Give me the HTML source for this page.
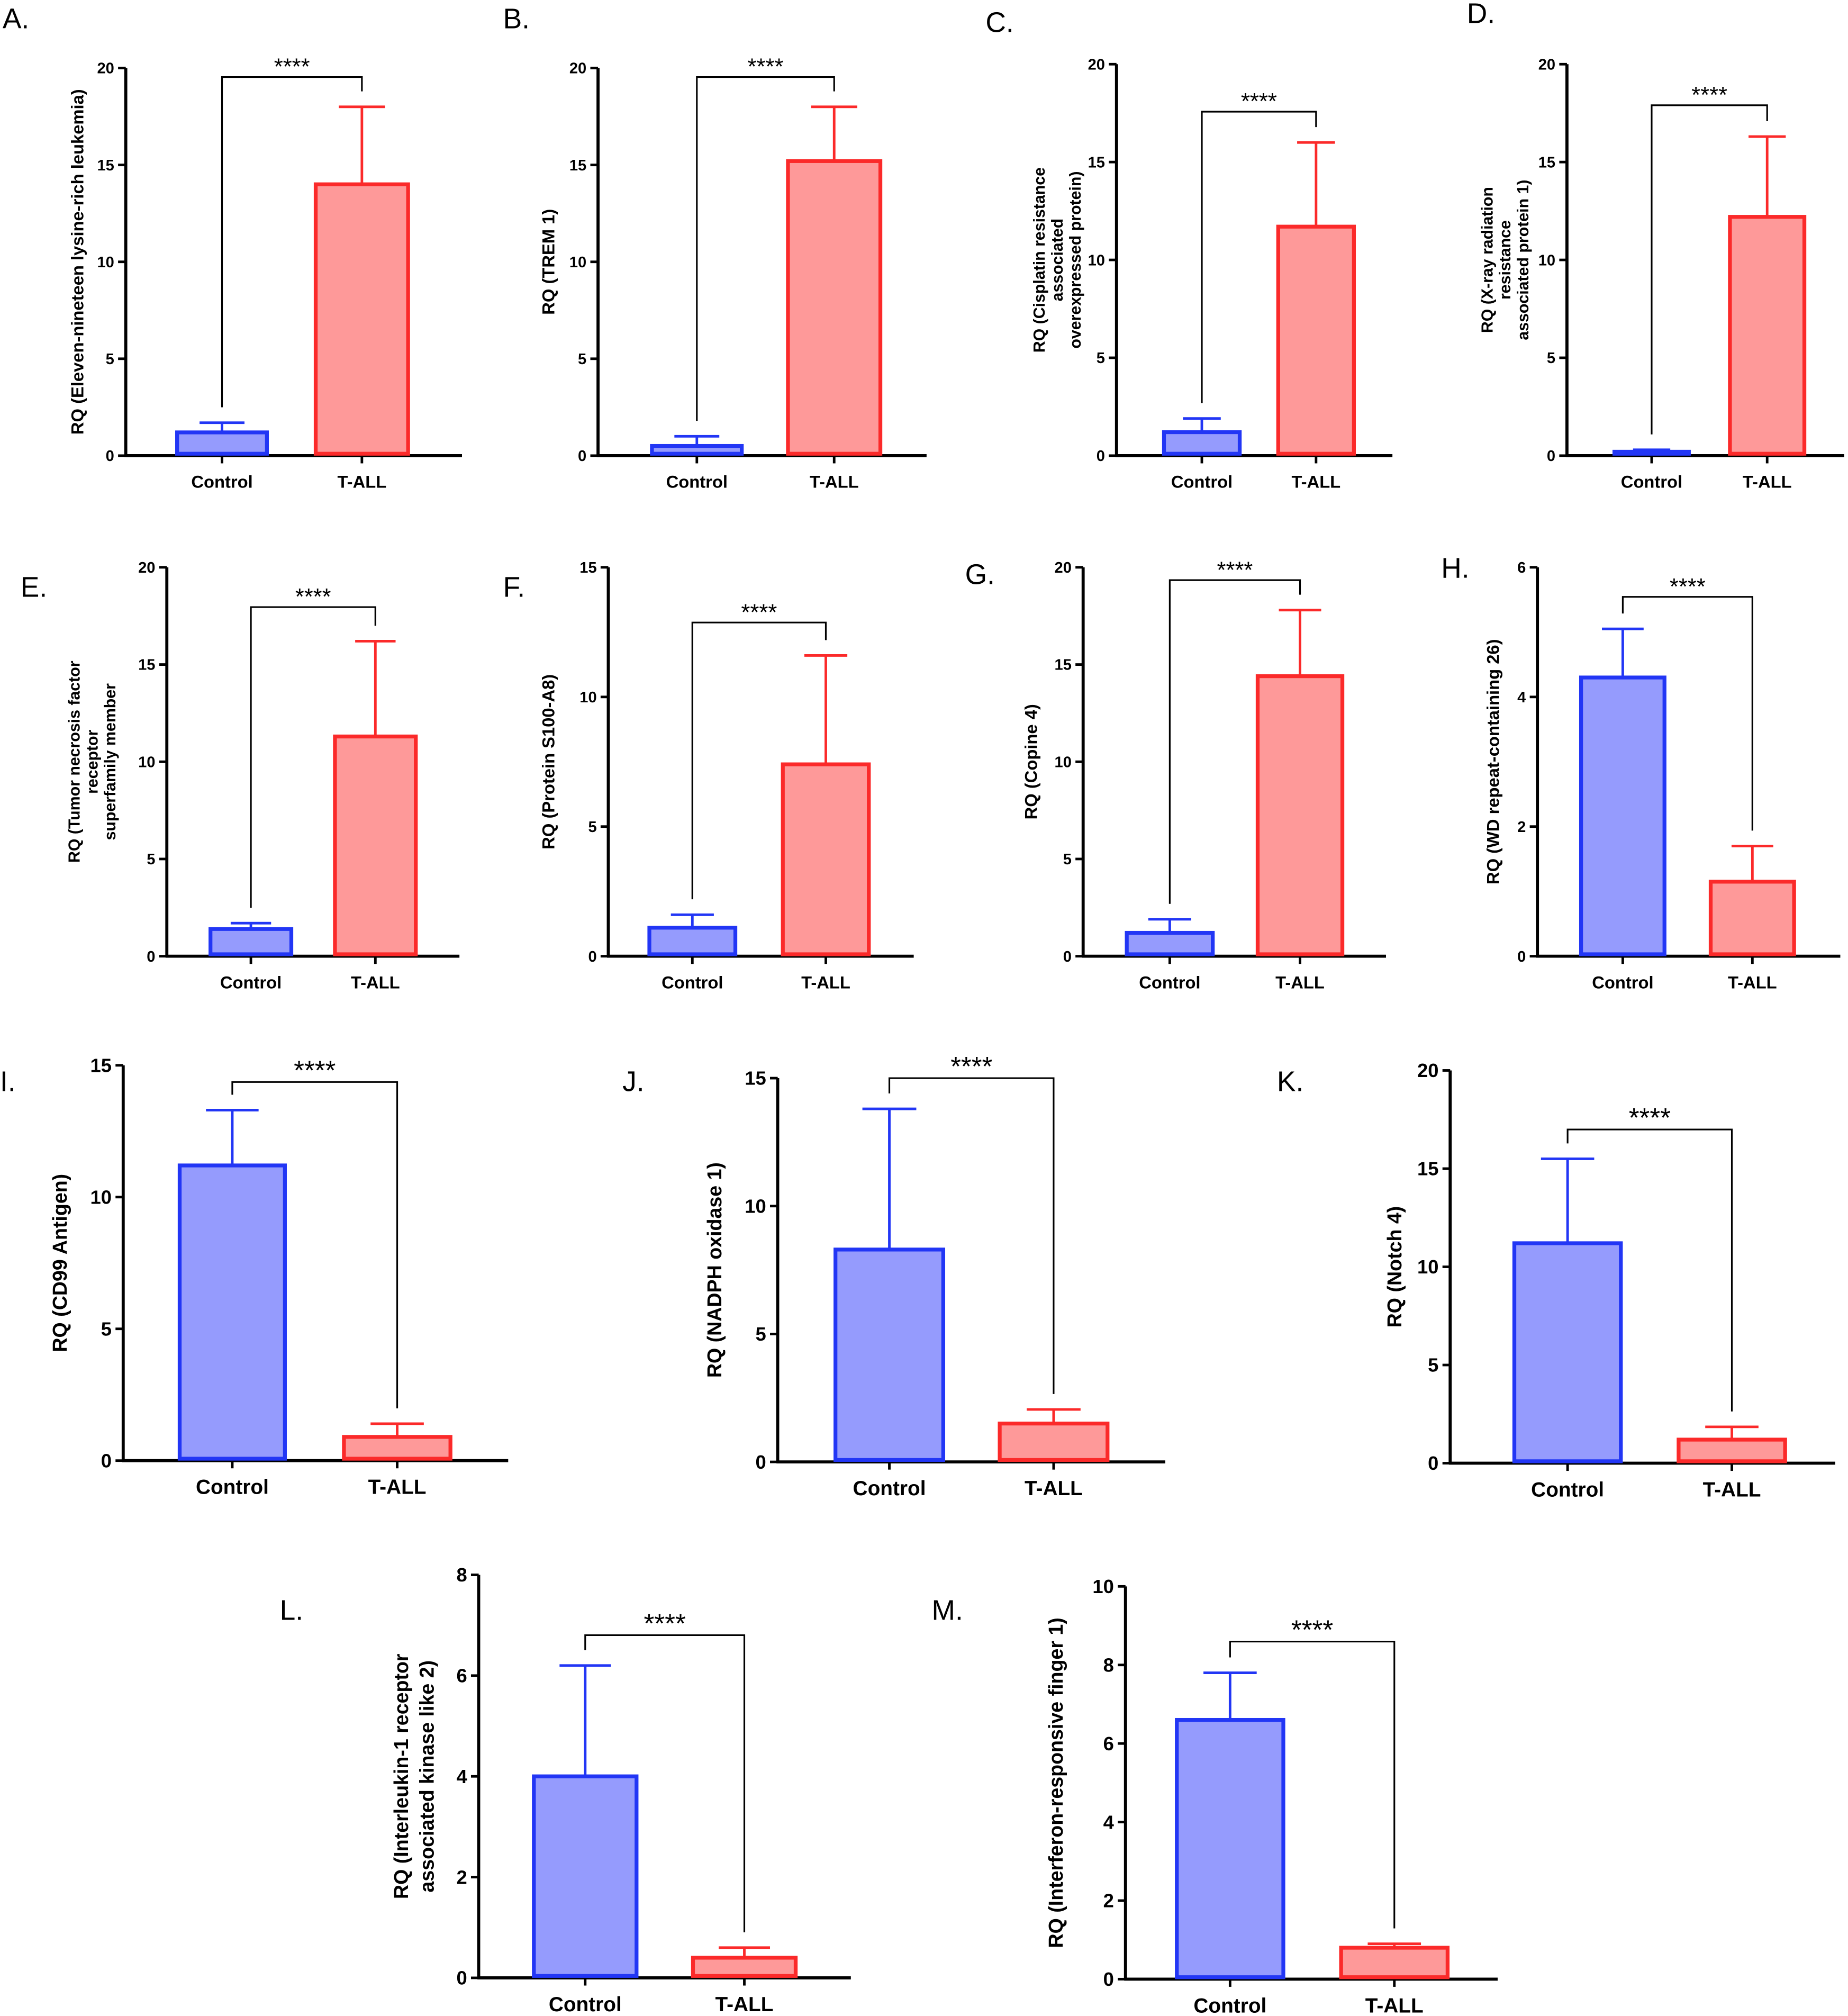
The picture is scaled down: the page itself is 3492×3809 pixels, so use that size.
<!DOCTYPE html>
<html><head><meta charset="utf-8"><style>
html,body{margin:0;padding:0;background:#fff}
svg{display:block}
text{font-family:"Liberation Sans",sans-serif}
</style></head><body>
<svg id="fig" width="3492" height="3809" viewBox="0 0 1440 1570.7" xmlns="http://www.w3.org/2000/svg"></svg>
<script>
const panelIds=["A","B","C","D","E","F","G","H","I","J","K","L","M"];
const categories=["Control","T-ALL"];
const controlVals=[1.2,0.5,1.2,0.2,1.4,1.1,1.2,4.3,11.2,8.3,11.2,4.0,6.6];
const controlErr=[1.7,1.0,1.9,0.3,1.7,1.6,1.9,5.05,13.3,13.8,15.5,6.2,7.8];
const tallVals=[14.0,15.2,11.7,12.2,11.3,7.4,14.4,1.15,0.9,1.5,1.2,0.4,0.8];
const tallErr=[18.0,18.0,16.0,16.3,16.2,11.6,17.8,1.7,1.4,2.05,1.85,0.6,0.9];
const yMax=[20,20,20,20,20,15,20,6,15,15,20,8,10];
const yStep=[5,5,5,5,5,5,5,2,5,5,5,2,2];
const sigLabels=["****","****","****","****","****","****","****","****","****","****","****","****","****"];
const yTitles=[
 ["RQ (Eleven-nineteen lysine-rich leukemia)"],["RQ (TREM 1)"],
 ["RQ (Cisplatin resistance","associated","overexpressed protein)"],
 ["RQ (X-ray radiation","resistance","associated protein 1)"],
 ["RQ (Tumor necrosis factor","receptor","superfamily member"],
 ["RQ (Protein S100-A8)"],["RQ (Copine 4)"],["RQ (WD repeat-containing 26)"],
 ["RQ (CD99 Antigen)"],["RQ (NADPH oxidase 1)"],["RQ (Notch 4)"],
 ["RQ (Interleukin-1 receptor","associated kinase like 2)"],
 ["RQ (Interferon-responsive finger 1)"]];
const layout=[
 [98,53,355,360,138,208,246,318,60,2,22,65,0],
 [466,53,355,722,508,578,614,686,60,392,22,432,0],
 [870,50,355,1085,907,966,996,1055,87,768,25,814,0],
 [1221,50,355,1437,1258,1316,1348,1406,82,1143,18,1163,0],
 [130,442,745,358,164,227,261,324,473,16,465,62,0],
 [474,442,745,712,506,573,610,677,485,392,465,432,0],
 [844,442,745,1080,878,945,980,1046,452,752,455,808,0],
 [1198,442,745,1434,1232,1297,1333,1398,465,1123,450,1168,0],
 [96,830,1138,396,140,222,268,351,843,0,850,52,1],
 [606,840,1139,908,651,735,779,863,840,485,850,562,1],
 [1130,834,1140,1430,1180,1263,1308,1391,880,995,850,1092,1],
 [373,1227,1541,663,416,496,540,620,1274,218,1262,318,1],
 [877,1236,1542,1167,917,1000,1045,1128,1279,726,1262,828,1]];
const NS="http://www.w3.org/2000/svg";
const svg=document.getElementById("fig");
function mk(tag,attrs,parent,txt){const e=document.createElementNS(NS,tag);for(const k in attrs)e.setAttribute(k,attrs[k]);if(txt!==undefined)e.textContent=txt;(parent||svg).appendChild(e);return e;}
panelIds.forEach((id,i)=>{
 const L=layout[i];const [ax,top,bot,axEnd,c0,c1,t0,t1,by,lx,ly,tx,big]=L;
 const g=mk("g",{});
 
 
 const y=v=>bot-(v/yMax[i])*(bot-top);
 const multi=yTitles[i].length>2;
 const tf=big?15:12, cf=big?16:13.5, sf=big?21:18, tif=big?15.5:(multi?12.5:13.5);
 const lab=mk("text",{x:lx,y:ly,"font-size":22},g,id+".");
 
 
 const ya=mk("line",{x1:ax,y1:top,x2:ax,y2:bot,stroke:"#000","stroke-width":2.4},g);
 
 
 const xa=mk("line",{x1:ax-1,y1:bot,x2:axEnd,y2:bot,stroke:"#000","stroke-width":2.4},g);
 
 
 for(let v=0;v<=yMax[i]+1e-9;v+=yStep[i]){
  const yy=y(v);
  mk("line",{x1:ax-6,y1:yy,x2:ax,y2:yy,stroke:"#000","stroke-width":2},g);
  const tl=mk("text",{x:ax-9,y:yy+tf*0.35,"font-size":tf,"font-weight":"bold","text-anchor":"end"},g,String(v));
  
  
 }
 const bars=[[c0,c1,controlVals[i],controlErr[i],"#959bfd","#2236f5"],[t0,t1,tallVals[i],tallErr[i],"#fe9999","#fb2a2a"]];
 bars.forEach((b,k)=>{
  const cx=(b[0]+b[1])/2, w=b[1]-b[0];
  mk("line",{x1:cx,y1:bot,x2:cx,y2:bot+6,stroke:"#000","stroke-width":2},g);
  const el=mk("line",{x1:cx,y1:y(b[2]),x2:cx,y2:y(b[3]),stroke:b[5],"stroke-width":2},g);
  
  
  mk("line",{x1:cx-w*0.25,y1:y(b[3]),x2:cx+w*0.25,y2:y(b[3]),stroke:b[5],"stroke-width":2},g);
  const r=mk("rect",{x:b[0],y:y(b[2]),width:w,height:Math.max(0,bot-y(b[2])-1.5),fill:b[4],stroke:b[5],"stroke-width":3},g);
  
  
  const cl=mk("text",{x:cx,y:bot+(big?26:25),"font-size":cf,"font-weight":"bold","text-anchor":"middle"},g,categories[k]);
  
  
 });
 const ccx=(c0+c1)/2, tcx=(t0+t1)/2;
 const br=mk("path",{d:`M${ccx},${y(controlErr[i])-12} V${by} H${tcx} V${y(tallErr[i])-12}`,fill:"none",stroke:"#000","stroke-width":1.3},g);
 
 
 const st=mk("text",{x:(ccx+tcx)/2,y:by-2,"font-size":sf,"text-anchor":"middle"},g,sigLabels[i]);
 
 
 const lines=yTitles[i];const cy=(top+bot)/2;
 lines.forEach((ln,k)=>{
  const xx=tx+k*(big?20:(multi?14:16));
  const t=mk("text",{x:xx,y:cy,"font-size":tif,"font-weight":"bold","text-anchor":"middle",transform:`rotate(-90 ${xx} ${cy})`},g,ln);
  
  
 });
});
</script>
</body></html>
